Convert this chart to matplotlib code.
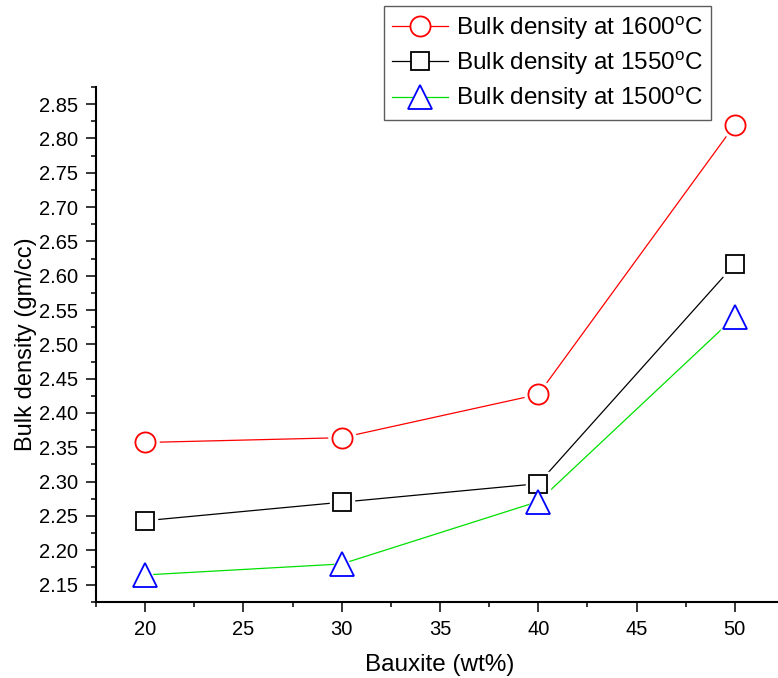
import matplotlib
matplotlib.use("Agg")
import numpy as np
import matplotlib.pyplot as plt
from matplotlib.lines import Line2D
from matplotlib.ticker import MultipleLocator

plt.rcParams['font.family'] = ['Liberation Sans', 'DejaVu Sans']
plt.rcParams['mathtext.fontset'] = 'custom'
plt.rcParams['mathtext.rm'] = 'Liberation Sans'

# datos
bauxite = [20, 30, 40, 50]
bd_1600 = [2.357, 2.364, 2.427, 2.820]
bd_1550 = [2.243, 2.270, 2.297, 2.617]
bd_1500 = [2.164, 2.180, 2.271, 2.540]

labels = ['Bulk density at 1600$^{\\rm o}$C',
          'Bulk density at 1550$^{\\rm o}$C',
          'Bulk density at 1500$^{\\rm o}$C']
line_colors = ['red', 'black', '#00e000']
mark_colors = ['red', 'black', 'blue']
markers = ['o', 's', '^']
msizes = [14.5, 12.5, 17]

fig = plt.figure(figsize=(7.78, 6.78), dpi=100)
ax = fig.add_axes([96/778, 1 - 601.7/678, 688/778, (601.7 - 87)/678])

series = [bd_1600, bd_1550, bd_1500]
handles = []
for ys, lc, mc, mk, ms, lab in zip(series, line_colors, mark_colors, markers, msizes, labels):
    ax.plot(bauxite, ys, color=lc, lw=0.9, zorder=2)
    # halo blanco para dejar hueco entre linea y marcador (estilo Origin)
    ax.plot(bauxite, ys, ls='none', marker=mk, ms=ms + 5, mfc='white', mec='white', zorder=3)
    ax.plot(bauxite, ys, ls='none', marker=mk, ms=ms, mfc='white', mec=mc, mew=1.3, zorder=4)
    handles.append(Line2D([], [], color=lc, lw=0.9, marker=mk, ms=ms, mfc='white', mec=mc, mew=1.3, label=lab))

ax.set_xlim(17.5, 52.5)
ax.set_ylim(2.125, 2.875)
ax.xaxis.set_major_locator(MultipleLocator(5))
ax.xaxis.set_minor_locator(MultipleLocator(2.5))
ax.yaxis.set_major_locator(MultipleLocator(0.05))
ax.yaxis.set_minor_locator(MultipleLocator(0.025))
ax.yaxis.set_major_formatter(plt.FormatStrFormatter('%.2f'))

ax.spines['top'].set_visible(False)
ax.spines['right'].set_visible(False)
ax.spines['left'].set_linewidth(1.5)
ax.spines['bottom'].set_linewidth(1.5)
ax.tick_params(which='major', direction='out', length=7, width=1.1, labelsize=14.5, pad=6)
ax.tick_params(which='minor', direction='out', length=3.5, width=1.1)

ax.set_xlabel('Bauxite (wt%)', fontsize=17.5, labelpad=11)
ax.set_ylabel('Bulk density (gm/cc)', fontsize=17, labelpad=1)

leg = fig.legend(handles=handles, loc='upper left', bbox_to_anchor=(384/778, 1 - 6/678),
                 bbox_transform=fig.transFigure, fontsize=17.5, frameon=True, fancybox=False,
                 borderaxespad=0, handlelength=2.3, handletextpad=0.35, labelspacing=0.3,
                 borderpad=0.32)
leg.get_frame().set_edgecolor('#333333')
leg.get_frame().set_linewidth(1.0)

plt.savefig('out.png', dpi=100)
